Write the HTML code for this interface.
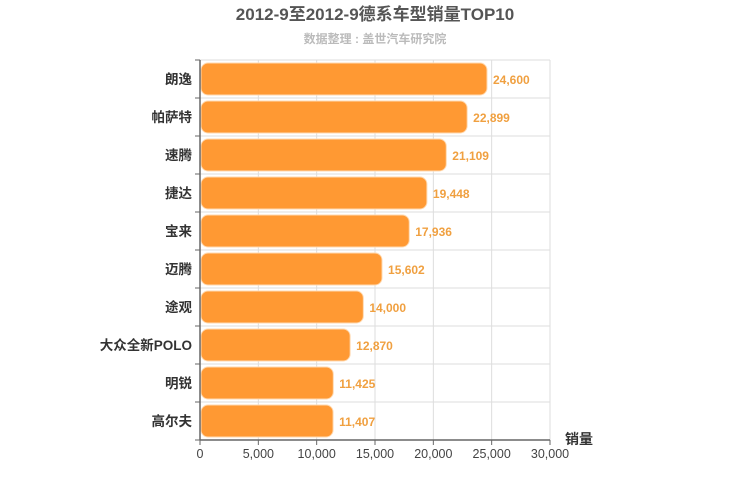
<!DOCTYPE html>
<html><head><meta charset="utf-8"><style>
body{margin:0;background:#fff;}
svg{display:block;font-family:"Liberation Sans","Noto Sans CJK SC",sans-serif;}
</style></head><body>
<svg id="c" width="750" height="500">
<text x="375" y="20" text-anchor="middle" font-size="17" font-weight="bold" fill="#555">2012-9至2012-9德系车型销量TOP10</text>
<text x="375" y="43" text-anchor="middle" font-size="12" font-weight="bold" fill="#bbb">数据整理 : 盖世汽车研究院</text>
<g id="grid"></g><g id="bars"></g><g id="axes"></g>
<text x="565" y="444" font-size="14" font-weight="bold" fill="#333">销量</text>
</svg>
<script>
const categories=["朗逸","帕萨特","速腾","捷达","宝来","迈腾","途观","大众全新POLO","明锐","高尔夫"];
const values=[24600,22899,21109,19448,17936,15602,14000,12870,11425,11407];
const ticks=[0,5000,10000,15000,20000,25000,30000];
const NS="http://www.w3.org/2000/svg";
const x0=200,x1=550,y0=60,rowH=38,max=30000;
const xs=v=>x0+(v/max)*(x1-x0);
const yb=y0+rowH*categories.length;
function mk(t,a,p){const e=document.createElementNS(NS,t);for(const k in a)e.setAttribute(k,a[k]);p.appendChild(e);return e;}
const G=document.getElementById('grid'),B=document.getElementById('bars'),A=document.getElementById('axes');
ticks.forEach(t=>{
 const l=mk('line',{x1:xs(t),x2:xs(t),y1:y0,y2:yb,stroke:'#ddd'},G);
 
 
 const tk=mk('line',{x1:xs(t),x2:xs(t),y1:yb,y2:yb+5,stroke:'#666'},A);
 
 
 const tx=mk('text',{x:xs(t),y:yb+18,'text-anchor':'middle','font-size':12.5,fill:'#444'},A);
 tx.textContent=t.toLocaleString('en-US');
 
 
});
for(let i=0;i<=categories.length;i++){
 const l=mk('line',{x1:x0,x2:x1,y1:y0+i*rowH,y2:y0+i*rowH,stroke:'#ddd'},G);
 
 
 const tk=mk('line',{x1:x0-5,x2:x0,y1:y0+i*rowH,y2:y0+i*rowH,stroke:'#666'},A);
 
 
}
categories.forEach((c,i)=>{
 const y=y0+i*rowH;
 const r=mk('rect',{x:x0+1,y:y+3,width:xs(values[i])-x0-1,height:rowH-6,rx:7,fill:'#ff9933',stroke:'#ffd9b0','stroke-width':1},B);
 
 
 const v=mk('text',{x:xs(values[i])+6,y:y+rowH/2+5,'font-size':12,'font-weight':'bold',fill:'#f0a040'},B);
 v.textContent=values[i].toLocaleString('en-US');
 
 
 const lb=mk('text',{x:x0-8,y:y+rowH/2+5,'text-anchor':'end','font-size':13.5,'font-weight':'bold',fill:'#333'},A);
 lb.textContent=c;
 
 
});
const ax=mk('line',{x1:x0,x2:x1,y1:yb,y2:yb,stroke:'#666','stroke-width':1.5},A);


const ay=mk('line',{x1:x0,x2:x0,y1:y0,y2:yb,stroke:'#666','stroke-width':1.5},A);


</script>
</body></html>
